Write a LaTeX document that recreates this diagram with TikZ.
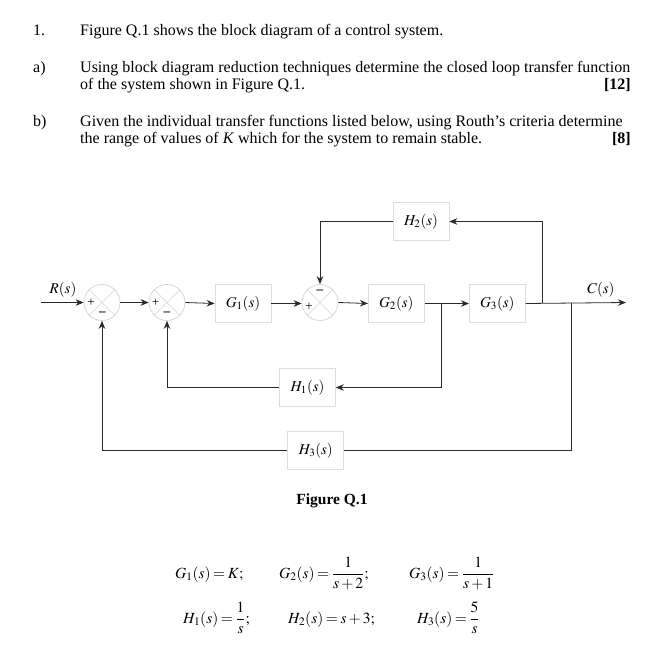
\documentclass[tikz,border=0pt]{standalone}
\usepackage{mathptmx}
\usepackage{fontspec}
\setmainfont{Liberation Serif}
\usetikzlibrary{arrows.meta}
\definecolor{boxgray}{HTML}{DDDDDD}
\definecolor{circgray}{HTML}{D2D2D2}
\definecolor{wirecol}{HTML}{2A2A2A}
\newcommand\dfr[2]{{\displaystyle\frac{#1}{#2}}}
\thickmuskip=3mu plus 1mu
\begin{document}
\begin{tikzpicture}[x=1pt,y=-1pt,
  every node/.style={font=\fontsize{15}{18}\selectfont},
  txt/.style={anchor=base west, inner sep=0pt, font=\fontsize{16}{19}\selectfont},
  txtr/.style={anchor=base east, inner sep=0pt, font=\fontsize{16}{19}\selectfont},
  blk/.style={draw=boxgray, line width=0.7pt, minimum width=56pt, minimum height=38pt, inner sep=0pt},
  sumj/.style={circle, draw=circgray, line width=0.7pt, minimum size=36pt, inner sep=0pt},
  wire/.style={draw=wirecol, line width=0.8pt},
  arrw/.style={wire, -{Stealth[length=8pt,width=6.5pt]}},
  sgn/.style={inner sep=0pt, font=\fontsize{13}{13}\selectfont},
  eqn/.style={anchor=base west, inner sep=0pt, font=\fontsize{15.5}{18}\selectfont}]
\useasboundingbox (0,0) rectangle (666,652);

% question text
\node[txt] (n1) at (33,36) {1.};
\node[txt] (t1) at (80,36) {Figure Q.1 shows the block diagram of a control system.};
\node[txt] (na) at (33,73) {a)};
\node[txt] (ta1) at (80,73) {Using block diagram reduction techniques determine the closed loop transfer function};
\node[txt] (ta2) at (80,90) {of the system shown in Figure Q.1.};
\node[txtr] (ma) at (631,90) {\textbf{[12]}};
\node[txt] (nb) at (33,127) {b)};
\node[txt] (tb1) at (80,127) {Given the individual transfer functions listed below, using Routh’s criteria determine};
\node[txt] (tb2) at (80,144) {the range of values of \textit{K} which for the system to remain stable.};
\node[txtr] (mb) at (631,144) {\textbf{[8]}};

% junctions
\node[sumj] (j1) at (102,302.5) {};
\node[sumj] (j2) at (167,302.5) {};
\node[sumj] (j3) at (320,302.5) {};
\foreach \j in {j1,j2,j3} {
  \draw[circgray, line width=0.6pt] (\j.45) -- (\j.225) (\j.135) -- (\j.315);
}
\node[sgn] (p1) at (91,303) {+};
\node[sgn] (m1) at (102.5,313.5) {\textbf{–}};
\node[sgn] (p2) at (155.5,303) {+};
\node[sgn] (m2) at (167,313.5) {\textbf{–}};
\node[sgn] (m3) at (320,292) {\textbf{–}};
\node[sgn] (p3) at (309,307) {+};

% blocks
\node[blk] (G1) at (243,303.5) {$G_1(s)$};
\node[blk] (G2) at (396.3,303.5) {$G_2(s)$};
\node[blk] (G3) at (497.3,303.5) {$G_3(s)$};
\node[blk] (H2) at (421,221.5) {$H_2(s)$};
\node[blk] (H1) at (307.5,387.5) {$H_1(s)$};
\node[blk] (H3) at (315.8,450.5) {$H_3(s)$};

% signal labels
\node[inner sep=0pt] (R) at (63,290) {$R(s)$};
\node[inner sep=0pt] (C) at (601,290) {$C(s)$};

% coordinates
\coordinate (rin) at (41,302.5);
\coordinate (cout) at (626,302.5);
\coordinate (b1) at (441.7,302.5);
\coordinate (b2) at (542,302.5);
\coordinate (b3) at (571.3,302.5);

% forward path
\draw[arrw] (rin) -- (j1.west);
\draw[arrw] (j1.east) -- (j2.west);
\draw[arrw] (j2.east) -- (G1.west);
\draw[arrw] (G1.east) -- (G1.east -| j3.west);
\draw[arrw] (j3.east) -- (G2.west);
\draw[arrw] (G2.east) -- (G3.west);
\draw[arrw] (G3.east) -- (cout);

% feedback H2
\draw[arrw] (b2) -- (b2 |- H2.east) -- (H2.east);
\draw[arrw] (H2.west) -- (j3.north |- H2.west) -- (j3.north);
% feedback H1
\draw[arrw] (b1) -- (b1 |- H1.east) -- (H1.east);
\draw[arrw] (H1.west) -- (j2.south |- H1.west) -- (j2.south);
% feedback H3
\draw[wire] (b3) -- (b3 |- H3.east) -- (H3.east);
\draw[arrw] (H3.west) -- (j1.south |- H3.west) -- (j1.south);

% caption
\node[inner sep=0pt, font=\fontsize{15.5}{18}\selectfont] (cap) at (332,501) {\textbf{Figure Q.1}};

% transfer functions
\node[eqn] (e1) at (175,578) {$G_1(s)= K;$};
\node[eqn] (e2) at (279,578) {$G_2(s)=\dfr{1}{s+2};$};
\node[eqn] (e3) at (409,578) {$G_3(s)=\dfr{1}{s+1}$};
\node[eqn] (e4) at (183,623) {$H_1(s)=\dfr{1}{s};$};
\node[eqn] (e5) at (288,623) {$H_2(s)=s+3;$};
\node[eqn] (e6) at (417,623) {$H_3(s)=\dfr{5}{s}$};
\end{tikzpicture}
\end{document}
